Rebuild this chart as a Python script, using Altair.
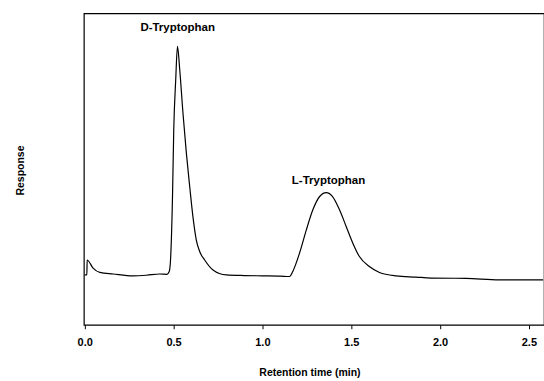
import altair as alt
import pandas as pd

# Chromatogram trace
times = [0.0, 0.012, 0.0135, 0.047, 0.085, 0.16, 0.272, 0.347, 0.422, 0.463,
         0.475, 0.482, 0.494, 0.501, 0.512, 0.522, 0.535, 0.553, 0.572, 0.591,
         0.609, 0.628, 0.647, 0.675, 0.722, 0.797, 0.9, 1.0, 1.1, 1.153,
         1.171, 1.209, 1.247, 1.284, 1.321, 1.359, 1.396, 1.434, 1.472, 1.509,
         1.546, 1.602, 1.659, 1.753, 1.865, 1.95, 2.146, 2.333, 2.58]
response = [16.0, 16.0, 20.8, 18.2, 16.8, 16.3, 15.7, 15.9, 16.3, 16.2,
            17.0, 20.0, 41.1, 62.5, 78.5, 89.4, 81.7, 67.9, 55.1, 44.3,
            34.7, 27.2, 23.5, 20.8, 17.6, 16.0, 15.8, 15.7, 15.6, 15.5,
            17.1, 23.0, 30.4, 36.9, 41.1, 42.4, 41.1, 36.9, 31.5, 26.2,
            21.9, 18.7, 16.8, 15.7, 15.3, 15.0, 14.9, 14.4, 14.4]

peak_names = ["D-Tryptophan", "L-Tryptophan"]
peak_label_t = [0.523, 1.372]
peak_label_y = [95.2, 46.0]

x_ticks = [0.0, 0.5, 1.0, 1.5, 2.0, 2.5]

trace = pd.DataFrame({"t": times, "r": response})
labels = pd.DataFrame({"name": peak_names, "t": peak_label_t, "r": peak_label_y})

FONT = "Liberation Sans"

xscale = alt.Scale(domain=[-0.005, 2.585], nice=False, zero=False)
yscale = alt.Scale(domain=[0, 100], nice=False)

line = alt.Chart(trace).mark_line(
    color="black", strokeWidth=1.2, interpolate="monotone", clip=True
).encode(
    x=alt.X("t:Q", scale=xscale,
            axis=alt.Axis(title="Retention time (min)", values=x_ticks, format=".1f",
                          grid=False, domain=False, ticks=True, tickSize=4,
                          tickColor="black", labelPadding=8, labelFlush=False,
                          labelFont=FONT, labelFontSize=11, labelFontWeight="bold",
                          labelColor="black",
                          titleFont=FONT, titleFontSize=10.5, titleFontWeight="bold",
                          titleColor="black", titleX=226, titleY=48,
                          titleBaseline="middle", titleAlign="center")),
    y=alt.Y("r:Q", scale=yscale,
            axis=alt.Axis(title="Response", labels=False, ticks=False, grid=False,
                          domain=False,
                          titleFont=FONT, titleFontSize=10.5, titleFontWeight="bold",
                          titleColor="black", titleX=-63, titleY=157,
                          titleBaseline="middle", titleAlign="center", titleAngle=-90)),
)

text = alt.Chart(labels).mark_text(
    font=FONT, fontSize=11.5, fontWeight="bold", color="black",
    align="center", baseline="middle"
).encode(
    x=alt.X("t:Q", scale=xscale),
    y=alt.Y("r:Q", scale=yscale),
    text="name:N",
)

chart = alt.layer(line, text).properties(
    width=461, height=312,
    background="white",
    autosize=alt.AutoSizeParams(type="none"),
    padding={"left": 84, "top": 13, "right": 0, "bottom": 56},
).configure_view(
    stroke="black", strokeWidth=1.2
)

chart.save("out.html", embed_options={"renderer": "svg", "actions": False})
